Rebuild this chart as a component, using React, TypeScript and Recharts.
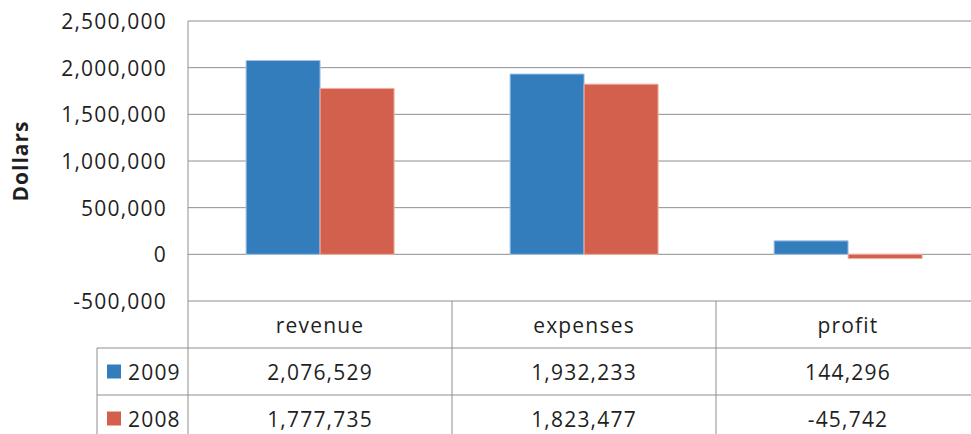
import React from 'react';
import { BarChart, Bar, XAxis, YAxis, CartesianGrid } from 'recharts';

const categories = ['revenue', 'expenses', 'profit'];
const values2009 = [2076529, 1932233, 144296];
const values2008 = [1777735, 1823477, -45742];
const yTicks = [-500000, 0, 500000, 1000000, 1500000, 2000000, 2500000];

const seriesInfo = [
  { key: 'y2009', name: '2009', values: values2009, fill: '#337dbd', stroke: '#a3c4e6' },
  { key: 'y2008', name: '2008', values: values2008, fill: '#d3604c', stroke: '#f0b0a4' },
];

const data = categories.map((name, i) => ({
  name,
  y2009: values2009[i],
  y2008: values2008[i],
}));

const FONT = '"Open Sans", "Liberation Sans", sans-serif';
const GRID = '#8f8f8f';
const TEXT = '#1f1f1f';
const textStyle = { fontFamily: FONT, fontSize: 21, letterSpacing: 1.2 };

// chart frame
const CHART_W = 980;
const CHART_H = 434;
const PLOT_LEFT = 188;
const PLOT_TOP = 21;
const PLOT_BOTTOM = 301;
const ROW_H = 47;
const LEGEND_LEFT = 97;
const BAND = (CHART_W - PLOT_LEFT) / categories.length;

const fmt = (v: number) => v.toLocaleString('en-US');

const YTick = ({ x, y, payload }: any) => (
  <text x={x} y={y} textAnchor="end" dominantBaseline="central" style={textStyle} fill={TEXT}>
    {fmt(payload.value)}
  </text>
);

// the x axis draws the data table under the plot
const TableTick = ({ payload, index }: any) => {
  const cx = payload.coordinate;
  const right = cx + BAND / 2;
  const rowTop = (r: number) => PLOT_BOTTOM + ROW_H * r;
  return (
    <g>
      <line x1={right} y1={PLOT_BOTTOM} x2={right} y2={CHART_H} stroke={GRID} />
      <text
        x={cx}
        y={rowTop(0) + ROW_H / 2}
        textAnchor="middle"
        dominantBaseline="central"
        style={textStyle}
        fill={TEXT}
      >
        {categories[index]}
      </text>
      {seriesInfo.map((s, r) => (
        <text
          key={s.key}
          x={cx}
          y={rowTop(r + 1) + ROW_H / 2}
          textAnchor="middle"
          dominantBaseline="central"
          style={textStyle}
          fill={TEXT}
        >
          {fmt(s.values[index])}
        </text>
      ))}
      {index === 0 && (
        <g>
          <line x1={PLOT_LEFT} y1={PLOT_TOP} x2={PLOT_LEFT} y2={CHART_H} stroke={GRID} />
          <line x1={LEGEND_LEFT} y1={rowTop(1)} x2={LEGEND_LEFT} y2={CHART_H} stroke={GRID} />
          {seriesInfo.map((s, r) => (
            <g key={s.key}>
              <line x1={LEGEND_LEFT} y1={rowTop(r + 1)} x2={CHART_W} y2={rowTop(r + 1)} stroke={GRID} />
              <rect x={107} y={rowTop(r + 1) + ROW_H / 2 - 7} width={14} height={14} fill={s.fill} />
              <text
                x={128}
                y={rowTop(r + 1) + ROW_H / 2}
                dominantBaseline="central"
                style={textStyle}
                fill={TEXT}
              >
                {s.name}
              </text>
            </g>
          ))}
        </g>
      )}
    </g>
  );
};

export default function App() {
  return (
    <div style={{ position: 'absolute', left: 0, top: 0, width: 971, height: 434, overflow: 'hidden', background: '#fff' }}>
      <BarChart
        width={CHART_W}
        height={CHART_H}
        data={data}
        margin={{ top: PLOT_TOP, right: 0, left: 0, bottom: 0 }}
        barCategoryGap="22%"
        barGap={0}
      >
        <CartesianGrid vertical={false} stroke={GRID} />
        <XAxis
          dataKey="name"
          height={CHART_H - PLOT_BOTTOM}
          axisLine={false}
          tickLine={false}
          tick={<TableTick />}
          interval={0}
        />
        <YAxis
          width={PLOT_LEFT}
          domain={[-500000, 2500000]}
          ticks={yTicks}
          axisLine={false}
          tickLine={false}
          tickMargin={15}
          tick={<YTick />}
          label={{
            value: 'Dollars',
            angle: -90,
            position: 'insideLeft',
            offset: 21,
            style: { fontFamily: FONT, fontSize: 21, letterSpacing: 1, fontWeight: 'bold', fill: TEXT, textAnchor: 'middle' },
          }}
        />
        {seriesInfo.map((s) => (
          <Bar
            key={s.key}
            dataKey={s.key}
            name={s.name}
            fill={s.fill}
            stroke={s.stroke}
            strokeWidth={1}
            isAnimationActive={false}
          />
        ))}
      </BarChart>
    </div>
  );
}
